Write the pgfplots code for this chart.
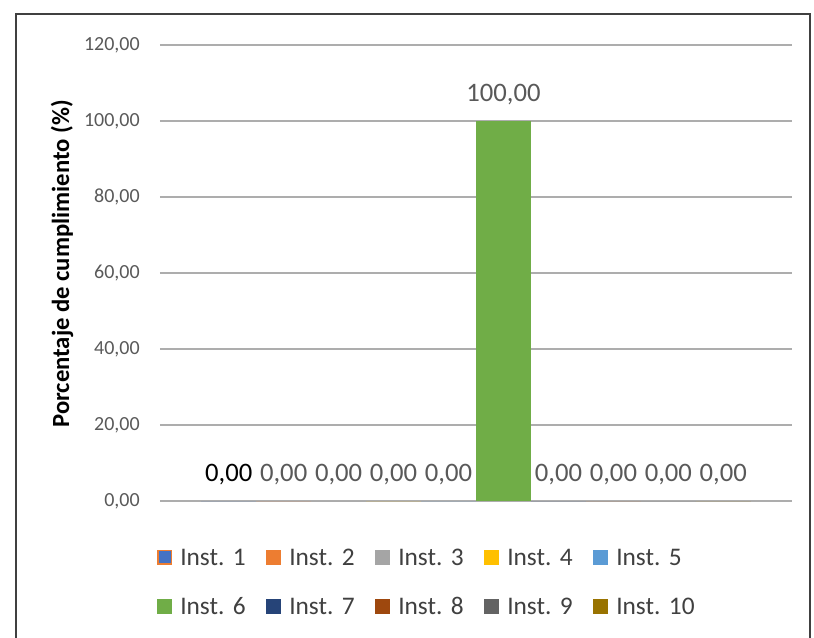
\documentclass[border=0pt]{standalone}
\usepackage{pgfplots}
\pgfplotsset{compat=1.18}
\usepackage{fontspec}
\setmainfont{Carlito}
\definecolor{c1}{HTML}{4472C4}
\definecolor{c2}{HTML}{ED7D31}
\definecolor{c3}{HTML}{A5A5A5}
\definecolor{c4}{HTML}{FFC000}
\definecolor{c5}{HTML}{5B9BD5}
\definecolor{c6}{HTML}{70AD47}
\definecolor{c7}{HTML}{264478}
\definecolor{c8}{HTML}{9E480E}
\definecolor{c9}{HTML}{636363}
\definecolor{c10}{HTML}{997300}
\definecolor{gridgray}{HTML}{ADADAD}
\definecolor{tickgray}{HTML}{595959}
\definecolor{legendgray}{HTML}{404040}
\definecolor{bordergray}{HTML}{404040}
\begin{document}
\frenchspacing
\begin{tikzpicture}
\begin{axis}[
  at={(0,0)}, anchor=south west,
  scale only axis, width=474pt, height=342pt,
  ybar, bar width=1, bar shift=0pt,
  mybar/.style={fill=#1, draw=none, bar shift=0pt, bar width=1},
  xmin=-0.25, xmax=11.25, ymin=0, ymax=120,
  ytick={0,20,...,120}, xtick=\empty,
  ymajorgrids, major grid style={line width=1.5pt, color=gridgray},
  axis line style={draw=none}, tick style={draw=none},
  /pgf/number format/.cd, use comma, fixed, fixed zerofill, precision=2, assume math mode=true, /pgfplots/.cd,
  yticklabel style={font=\fontsize{15}{18}\selectfont, color=tickgray, anchor=east, inner sep=0pt, xshift=-15pt},
  every axis y label/.style={at={(axis description cs:-0.155,0.52)}, rotate=90, anchor=center},
  ylabel={Porcentaje de cumplimiento (\%)},
  ylabel style={font=\fontsize{18.5}{21}\selectfont\bfseries, color=black},
  nodes near coords,
  every node near coord/.append style={font=\fontsize{20}{24}\selectfont, color=tickgray, anchor=south, inner sep=0pt, text depth=0pt, yshift=14.6pt},
  legend columns=5, legend cell align=left,
  legend style={draw=none, fill=none, inner sep=0pt,
    at={(axis description cs:-0.0047,-0.105)}, anchor=north west,
    font=\fontsize{19}{22}\selectfont\frenchspacing, text=legendgray, row sep=24.5pt,
    nodes={inner sep=0pt, text width=64.5pt, text height=12.2pt, text depth=0pt},
    /tikz/every odd column/.append style={column sep=6pt}},
  legend image code/.code={\fill[#1] (0pt,-5.625pt) rectangle (11.25pt,5.625pt);},
]
\addplot[mybar=c1, every node near coord/.append style={color=black},
  legend image code/.code={\draw[fill=c1, draw=c2, line width=1.2pt] (0.6pt,-5.025pt) rectangle (10.65pt,5.025pt);}] coordinates {(1,0)};
\addplot[mybar=c2] coordinates {(2,0)};
\addplot[mybar=c3] coordinates {(3,0)};
\addplot[mybar=c4] coordinates {(4,0)};
\addplot[mybar=c5] coordinates {(5,0)};
\addplot[mybar=c6] coordinates {(6,100)};
\addplot[mybar=c7] coordinates {(7,0)};
\addplot[mybar=c8] coordinates {(8,0)};
\addplot[mybar=c9] coordinates {(9,0)};
\addplot[mybar=c10] coordinates {(10,0)};
\legend{Inst. 1,Inst. 2,Inst. 3,Inst. 4,Inst. 5,Inst. 6,Inst. 7,Inst. 8,Inst. 9,Inst. 10}
\end{axis}
\draw[bordergray, line width=1.5pt] (-108pt,-110pt) -- (-108pt,365.25pt) -- (487.5pt,365.25pt) -- (487.5pt,-110pt);
\pgfresetboundingbox
\useasboundingbox (-120pt,-102pt) rectangle (490.5pt,375.75pt);
\end{tikzpicture}
\end{document}
